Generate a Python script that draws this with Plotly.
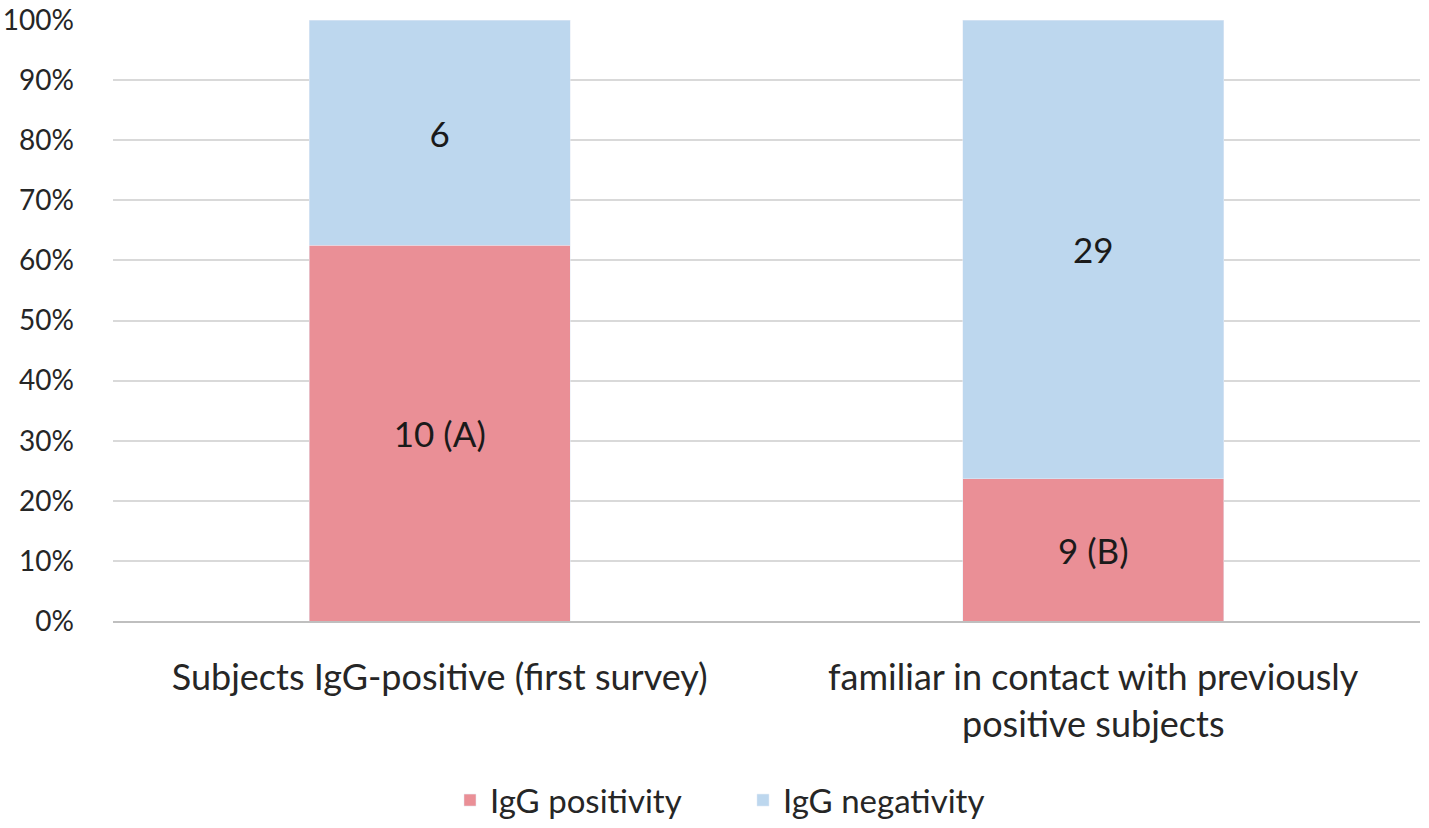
import plotly.graph_objects as go

categories = ["Subjects IgG-positive (first survey)", "familiar in contact with previously<br>positive subjects"]
positive = [10, 9]
negative = [6, 29]
pos_labels = ["10 (A)", "9 (B)"]
neg_labels = ["6", "29"]
tick_vals = [0, 0.1, 0.2, 0.3, 0.4, 0.5, 0.6, 0.7, 0.8, 0.9, 1.0]
tick_text = ["0%", "10%", "20%", "30%", "40%", "50%", "60%", "70%", "80%", "90%", "100%"]

totals = [p + n for p, n in zip(positive, negative)]
pos_frac = [p / t for p, t in zip(positive, totals)]
neg_frac = [n / t for n, t in zip(negative, totals)]

FONT = "Lato"
fig = go.Figure()
fig.add_trace(go.Bar(x=categories, y=pos_frac, name="IgG positivity", marker_color="#EA8F96",
                     text=pos_labels, textposition="inside", insidetextanchor="middle",
                     textfont=dict(size=35, color="#1a1a1a", family=FONT), hoverinfo="skip"))
fig.add_trace(go.Bar(x=categories, y=neg_frac, name="IgG negativity", marker_color="#BDD7EE",
                     text=neg_labels, textposition="inside", insidetextanchor="middle",
                     textfont=dict(size=35, color="#1a1a1a", family=FONT), hoverinfo="skip"))

fig.update_layout(
    barmode="stack", bargap=0.6,
    width=1429, height=828,
    margin=dict(l=113, r=9, t=20, b=207, autoexpand=False),
    plot_bgcolor="white", paper_bgcolor="white",
    font=dict(family=FONT, size=28, color="#262626"),
    uniformtext=dict(mode="show", minsize=10),
    legend=dict(orientation="h", x=0.482, xanchor="center", y=-0.298, yanchor="middle",
                entrywidth=248, entrywidthmode="pixels",
                font=dict(size=33, family=FONT, color="#262626"), traceorder="normal"),
    showlegend=True,
)
fig.update_yaxes(range=[0, 1], tickvals=tick_vals, ticktext=tick_text, showgrid=True,
                 gridcolor="#D9D9D9", gridwidth=2, zeroline=False, showline=False, automargin=False,
                 ticklabeloverflow="allow",
                 tickfont=dict(size=28, family=FONT, color="#262626"), ticks="", ticklabelstandoff=38)
fig.update_xaxes(showline=True, linecolor="#BFBFBF", linewidth=2, ticks="", automargin=False,
                 ticklabeloverflow="allow",
                 tickfont=dict(size=36, family=FONT, color="#262626"), ticklabelstandoff=24)

fig.write_html("out.html", config={"displayModeBar": False},
               post_script="document.body.style.margin='0';")
